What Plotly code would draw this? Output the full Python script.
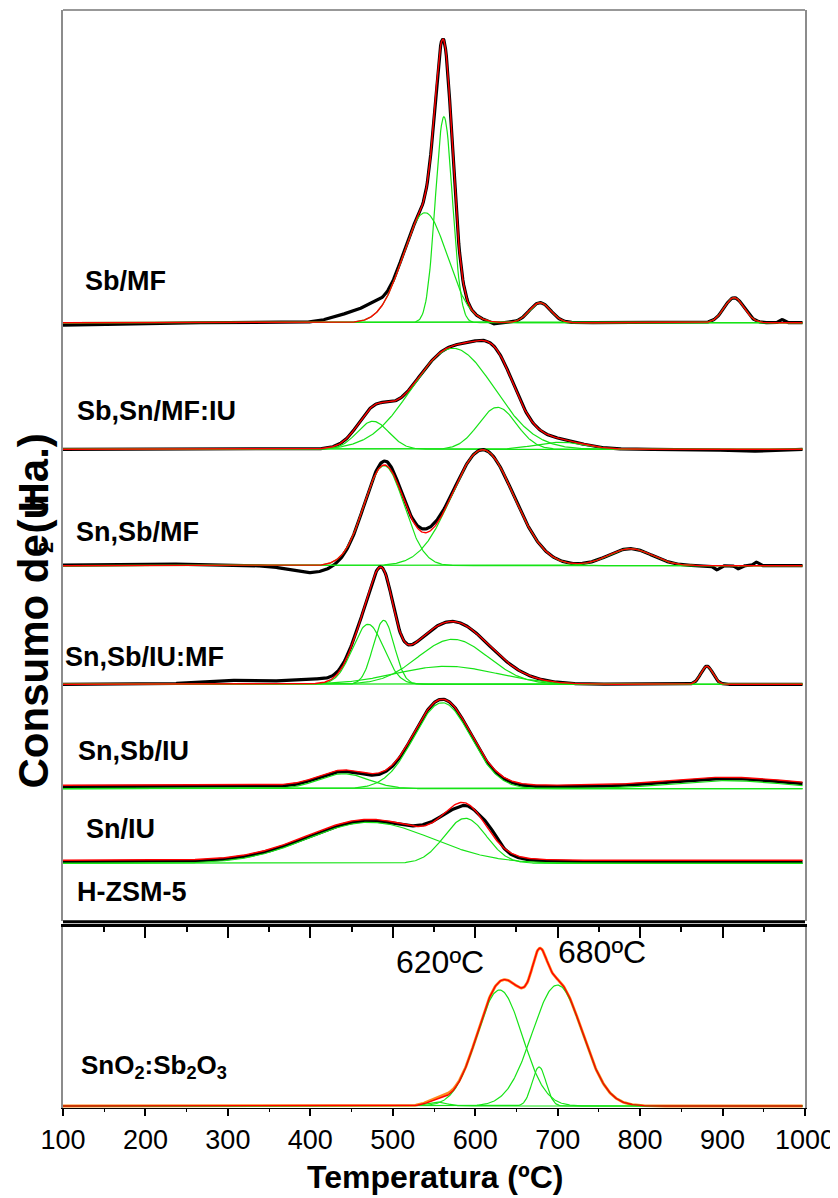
import numpy as np
import plotly.graph_objects as go

# ---------------- data ----------------
T_START, T_END = 100, 997  # temperature span of the recorded TPR profiles (ºC)

# sample labels (top panel, top -> bottom) and their baselines (a.u.)
samples = ["Sb/MF", "Sb,Sn/MF:IU", "Sn,Sb/MF", "Sn,Sb/IU:MF", "Sn,Sb/IU", "Sn/IU", "H-ZSM-5"]
baselines = [598.3, 471.7, 355.3, 236.7, 132.3, 57.7, None]
fit_offsets = [0.0, 0.0, 0.0, 0.0, 3.5, 3.0, None]
exp_offsets = [0.0, 0.0, 0.0, 0.0, 2.0, 1.5, None]

# Gaussian components of each deconvolution: centre (ºC), height (a.u.), sigma (ºC)
sbmf_centers = [539, 562, 678.6, 914]
sbmf_heights = [110, 206, 20, 25]
sbmf_sigmas = [27, 10.3, 13, 12]

sbsn_centers = [476, 573, 627, 703]
sbsn_heights = [28, 101, 42, 7]
sbsn_sigmas = [19.4, 50, 23, 30]

snsbmf_centers = [489.4, 609, 788]
snsbmf_heights = [100, 116, 17]
snsbmf_sigmas = [24.3, 37.6, 26.7]

snsbiumf_centers = [470, 489, 573, 565, 881]
snsbiumf_heights = [60, 64, 45, 18, 18]
snsbiumf_sigmas = [18.8, 12.7, 42.5, 60.6, 7.3]

snsbiu_centers = [440, 560, 905]
snsbiu_heights = [15, 86, 8]
snsbiu_sigmas = [30, 34.3, 67]

sniu_centers = [472, 588]
sniu_heights = [41, 45]
sniu_sigmas = [75, 25.5]

# deviations of the measured (black) profile from the fitted envelope: centre, height, sigma
sbmf_dev_c = [455, 475, 100, 622, 972]
sbmf_dev_h = [10, 6, -2.5, -2, 3]
sbmf_dev_s = [25, 12, 60, 5, 3]

sbsn_dev_c = [930]
sbsn_dev_h = [-2]
sbsn_dev_s = [25]

snsbmf_dev_c = [200, 400, 492, 545, 893, 919, 941]
snsbmf_dev_h = [2, -7, 4, 4, -4, -3, 3.5]
snsbmf_dev_s = [60, 25, 10, 15, 3.5, 3, 3]

snsbiumf_dev_c = [300, 395]
snsbiumf_dev_h = [4, 5]
snsbiumf_dev_s = [35, 30]

snsbiu_dev_c = [560]
snsbiu_dev_h = [1.5]
snsbiu_dev_s = [30]

sniu_dev_c = [540, 578, 618]
sniu_dev_h = [3, -2.5, 6]
sniu_dev_s = [15, 8, 10]

# bottom panel: SnO2:Sb2O3 reference
ref_baseline = 2.0
ref_centers = [553, 629.5, 677.5, 699.6]
ref_heights = [4, 116, 39, 121]
ref_sigmas = [12, 27.6, 8.5, 30.4]
ref_dev_c = [560]
ref_dev_h = [2]
ref_dev_s = [15]

x_ticks = [100, 200, 300, 400, 500, 600, 700, 800, 900, 1000]
peak_labels = ["620ºC", "680ºC"]

# ---------------- figure geometry (page pixels; page body has an 8 px margin) ----------------
BODY = 8
PAGE_W, PAGE_H = 838, 1198
L, R, TOP, BOT = 63, 805, 10, 1108
W, H = PAGE_W - BODY, PAGE_H - BODY


def px_x(px):
    return (px - L) / (R - L)


def px_y(py):
    return (BOT - py) / (BOT - TOP)


T = np.arange(T_START, T_END + 1, 1.0)


def gsum(cs, hs, ss):
    out = np.zeros_like(T)
    for c, h, s in zip(cs, hs, ss):
        out += h * np.exp(-((T - c) ** 2) / (2 * s * s))
    return out


BLACK = "#000000"
RED = "#ff0000"
GREEN = "#16e316"
ORANGE = "#ff8a1c"

fig = go.Figure()

top_sets = [
    (sbmf_centers, sbmf_heights, sbmf_sigmas, sbmf_dev_c, sbmf_dev_h, sbmf_dev_s),
    (sbsn_centers, sbsn_heights, sbsn_sigmas, sbsn_dev_c, sbsn_dev_h, sbsn_dev_s),
    (snsbmf_centers, snsbmf_heights, snsbmf_sigmas, snsbmf_dev_c, snsbmf_dev_h, snsbmf_dev_s),
    (snsbiumf_centers, snsbiumf_heights, snsbiumf_sigmas, snsbiumf_dev_c, snsbiumf_dev_h, snsbiumf_dev_s),
    (snsbiu_centers, snsbiu_heights, snsbiu_sigmas, snsbiu_dev_c, snsbiu_dev_h, snsbiu_dev_s),
    (sniu_centers, sniu_heights, sniu_sigmas, sniu_dev_c, sniu_dev_h, sniu_dev_s),
]

for i, (cs, hs, ss, dc, dh, dsg) in enumerate(top_sets):
    b = baselines[i]
    fit = gsum(cs, hs, ss)
    measured = b + exp_offsets[i] + fit + gsum(dc, dh, dsg)
    fig.add_trace(go.Scatter(x=T, y=measured, mode="lines",
                             line=dict(color=BLACK, width=3.2), xaxis="x", yaxis="y",
                             showlegend=False, hoverinfo="skip"))
    for c, h, s in zip(cs, hs, ss):
        comp = b + gsum([c], [h], [s])
        fig.add_trace(go.Scatter(x=T, y=comp, mode="lines",
                                 line=dict(color=GREEN, width=1.2), xaxis="x", yaxis="y",
                                 showlegend=False, hoverinfo="skip"))
    fig.add_trace(go.Scatter(x=T, y=b + fit_offsets[i] + fit, mode="lines",
                             line=dict(color=RED, width=1.4), xaxis="x", yaxis="y",
                             showlegend=False, hoverinfo="skip"))

# bottom panel
ref_fit = gsum(ref_centers, ref_heights, ref_sigmas)
ref_meas = ref_baseline + ref_fit + gsum(ref_dev_c, ref_dev_h, ref_dev_s)
fig.add_trace(go.Scatter(x=T, y=ref_meas, mode="lines", line=dict(color=ORANGE, width=2.8),
                         xaxis="x2", yaxis="y2", showlegend=False, hoverinfo="skip"))
for c, h, s in zip(ref_centers, ref_heights, ref_sigmas):
    fig.add_trace(go.Scatter(x=T, y=ref_baseline + gsum([c], [h], [s]), mode="lines",
                             line=dict(color=GREEN, width=1.2), xaxis="x2", yaxis="y2",
                             showlegend=False, hoverinfo="skip"))
fig.add_trace(go.Scatter(x=T, y=ref_baseline + ref_fit, mode="lines", line=dict(color=RED, width=1.4),
                         xaxis="x2", yaxis="y2", showlegend=False, hoverinfo="skip"))

# ---------------- annotations ----------------
FAM = "Liberation Sans, Arial, sans-serif"
LABEL_FONT = dict(family=FAM, size=27, color="black")
label_pos = [(83, 281), (75, 411), (74, 532), (63, 657), (76, 751), (84, 829), (75, 892)]
ann = []
for name, (lx, ly) in zip(samples, label_pos):
    ann.append(dict(text="<b>%s</b>" % name, x=px_x(lx), y=px_y(ly), xref="paper", yref="paper",
                    xanchor="left", yanchor="middle", showarrow=False, font=LABEL_FONT))
ann.append(dict(text="<b>SnO<sub>2</sub>:Sb<sub>2</sub>O<sub>3</sub></b>", x=px_x(79), y=px_y(1066),
                xref="paper", yref="paper", xanchor="left", yanchor="middle", showarrow=False,
                font=dict(family=FAM, size=26, color="black")))
PEAK_FONT = dict(family=FAM, size=32, color="black")
ann.append(dict(text=peak_labels[0], x=px_x(440), y=px_y(962), xref="paper", yref="paper",
                xanchor="center", yanchor="middle", showarrow=False, font=PEAK_FONT))
ann.append(dict(text=peak_labels[1], x=px_x(602), y=px_y(952), xref="paper", yref="paper",
                xanchor="center", yanchor="middle", showarrow=False, font=PEAK_FONT))
ann.append(dict(text="<b>Temperatura (ºC)</b>", x=px_x(435), y=px_y(1177), xref="paper", yref="paper",
                xanchor="center", yanchor="middle", showarrow=False,
                font=dict(family=FAM, size=32, color="black")))
YT_FONT = dict(family=FAM, size=42, color="black")
YT_X = 32.5
ann.append(dict(text="<b>Consumo de</b>", x=px_x(YT_X), y=px_y(662), xref="paper", yref="paper",
                xanchor="center", yanchor="middle", textangle=-90, showarrow=False, font=YT_FONT,
                borderpad=0))
ann.append(dict(text="<b>(u.a.)</b>", x=px_x(YT_X), y=px_y(484), xref="paper", yref="paper",
                xanchor="center", yanchor="middle", textangle=-90, showarrow=False, font=YT_FONT,
                borderpad=0))
ann.append(dict(text="<b>H</b>", x=px_x(YT_X), y=px_y(498), xref="paper", yref="paper",
                xanchor="center", yanchor="middle", textangle=-90, showarrow=False, font=YT_FONT,
                borderpad=0))
ann.append(dict(text="<b>2</b>", x=px_x(46), y=px_y(548), xref="paper", yref="paper",
                xanchor="center", yanchor="middle", textangle=-90, showarrow=False,
                font=dict(family=FAM, size=20, color="black")))

# ---------------- frame lines ----------------
shapes = [
    dict(type="line", xref="paper", yref="paper", x0=0, x1=1, y0=px_y(10), y1=px_y(10),
         line=dict(color="#333333", width=1.2)),
    dict(type="line", xref="paper", yref="paper", x0=0, x1=1, y0=px_y(921.8), y1=px_y(921.8),
         line=dict(color="black", width=3)),
]

top_dom = [px_y(921), 1.0]
bot_dom = [0.0, px_y(927)]

fig.update_layout(
    width=W, height=H,
    margin=dict(l=L - BODY, r=PAGE_W - R, t=TOP - BODY, b=PAGE_H - BOT, autoexpand=False),
    paper_bgcolor="white", plot_bgcolor="white",
    showlegend=False,
    annotations=ann, shapes=shapes,
    xaxis=dict(range=[100, 1000], domain=[0, 1], anchor="y", showticklabels=False, showgrid=False,
               zeroline=False, showline=False, ticks=""),
    yaxis=dict(range=[0, 911], domain=top_dom, anchor="x", showticklabels=False, showgrid=False,
               zeroline=False, showline=True, linecolor="#8c8c8c", linewidth=2, mirror=True, ticks=""),
    xaxis2=dict(range=[100, 1000], domain=[0, 1], anchor="y2", showgrid=False, zeroline=False,
                showline=True, linecolor="black", linewidth=1.2, ticks="outside", ticklen=7,
                tickwidth=1.5, tickcolor="black", tickvals=x_ticks, ticktext=[str(v) for v in x_ticks],
                tickfont=dict(family=FAM, size=27, color="black"),
                minor=dict(ticks="outside", ticklen=3, tickwidth=1.2, tickcolor="black", dtick=50,
                           tick0=150)),
    xaxis3=dict(range=[100, 1000], overlaying="x2", anchor="y2", side="top", showgrid=False,
                zeroline=False, showline=True, linecolor="black", linewidth=2.6, ticks="inside",
                ticklen=11, tickwidth=2, tickcolor="black", tickvals=x_ticks, showticklabels=False,
                minor=dict(ticks="inside", ticklen=5, tickwidth=1.5, tickcolor="black", dtick=50,
                           tick0=150)),
    yaxis2=dict(range=[0, 181], domain=bot_dom, anchor="x2", showticklabels=False, showgrid=False,
                zeroline=False, showline=True, linecolor="#8c8c8c", linewidth=2, mirror=True, ticks=""),
)
# invisible trace so the top axis of the lower panel renders
fig.add_trace(go.Scatter(x=[100, 1000], y=[-10, -10], mode="lines", xaxis="x3", yaxis="y2",
                         line=dict(width=0), showlegend=False, hoverinfo="skip"))

fig.write_html("out.html")
